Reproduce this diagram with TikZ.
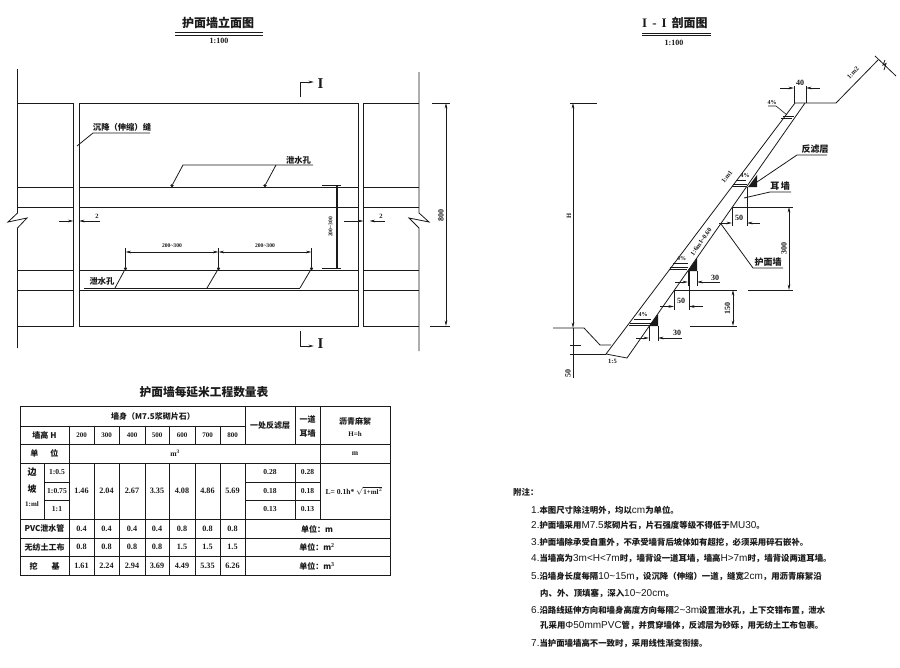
\documentclass[tikz,border=0pt]{standalone}
\usepackage{fontspec}
\setmainfont{Liberation Serif}
\newfontfamily\cjk{Noto Sans CJK SC}
\newfontfamily\ls{Liberation Sans}
\newcommand{\fs}[1]{\fontsize{#1}{#1}\selectfont}
\newcommand{\Z}[1]{{\cjk\bfseries #1}}
\newcommand{\A}[1]{{\ls\fs{10}#1}}
\usetikzlibrary{arrows.meta}
\definecolor{ink}{HTML}{1A1A1A}
\tikzset{
  ln/.style={draw=ink,line width=0.8pt},
  hv/.style={draw=ink,line width=1.1pt},
  dimline/.style={draw=ink,line width=0.6pt},
  tip/.style={-{Stealth[length=5.5pt,width=2.6pt]}},
  lab/.style={inner sep=0pt,text=ink,font=\fs{8.3}\cjk\bfseries},
  num/.style={inner sep=0pt,text=ink,font=\fs{6.5}\bfseries},
  tnum/.style={inner sep=0pt,text=ink,font=\fs{5.6}\bfseries},
  scalenum/.style={inner sep=0pt,text=ink,font=\fs{8}\bfseries},
  pct/.style={inner sep=0pt,text=ink,font=\fs{6}\bfseries},
  dimnum/.style={inner sep=0pt,text=ink,font=\fs{8}\bfseries},
  ttl/.style={inner sep=0pt,text=ink,font=\fs{12}\cjk\bfseries},
  cell/.style={inner sep=0pt,text=ink,font=\fs{7.6}\bfseries},
  hcell/.style={inner sep=0pt,text=ink,font=\fs{7}\bfseries},
  vcell/.style={inner sep=0pt,text=ink,font=\fs{8.2}\bfseries},
  ccell/.style={inner sep=0pt,text=ink,font=\fs{8}\cjk\bfseries},
  note/.style={inner sep=0pt,anchor=west,text=ink,font=\fs{8.4}\cjk},
  hole/.style={circle,fill=ink,draw=ink,line width=0.3pt,minimum size=3pt,inner sep=0pt},
  grid/.style={draw=ink,line width=0.9pt},
}
\begin{document}
\begin{tikzpicture}[x=1pt,y=-1pt]
\useasboundingbox[fill=white] (0,0) rectangle (900,667);

% ---------- elevation ----------
\node[ttl] (t1) at (218,23) {护面墙立面图};
\draw[ln] (175,32.5) -- (263,32.5);
\draw[ln] (175,35) -- (263,35);
\node[scalenum] (s1) at (219,40.5) {1:100};

% outer verticals with break marks
\draw[ln] (17.5,69) -- (17.5,213) -- (8,222) -- (27,218) -- (17.5,228) -- (17.5,348);
\draw[ln] (419,72) -- (419,213) -- (429,222) -- (409,218) -- (419,228) -- (419,351);
% panels
\draw[ln] (17.5,103) -- (73.5,103) -- (73.5,326) -- (17.5,326);
\draw[ln] (79,103) rectangle (358,326);
\draw[ln] (419,103) -- (363.5,103) -- (363.5,326) -- (419,326);
\foreach \yy in {187,207,270.5,290.5}{
  \draw[ln] (17.5,\yy) -- (73.5,\yy);
  \draw[ln] (79,\yy) -- (358,\yy);
  \draw[ln] (363.5,\yy) -- (419,\yy);
}
% section marks
\draw[ln] (300,97) -- (300,82);
\draw[ln,tip] (300,82) -- (314,82);
\node[inner sep=0pt,font=\fs{15}\bfseries,text=ink] (i1) at (320.5,84) {I};
\draw[ln] (300,331) -- (300,346);
\draw[ln,tip] (300,346) -- (314,346);
\node[inner sep=0pt,font=\fs{15}\bfseries,text=ink] (i2) at (320.5,343.5) {I};
% 800
\draw[ln] (432,103) -- (450,103);
\draw[ln] (430,326) -- (450,326);
\draw[dimline,tip] (446,215) -- (446,103);
\draw[dimline,tip] (446,215) -- (446,326);
\node[dimnum,rotate=90] (d800) at (441,215) {800};
% 200~300 vertical
\draw[ln] (322,185) -- (341,185);
\draw[ln] (322,268) -- (341,268);
\draw[hv] (337,185) -- (337,268);
\node[tnum,rotate=90] (dv) at (330.5,227) {200\textasciitilde300};
% gaps
\draw[dimline,tip] (59,221) -- (73.5,221);
\draw[dimline,tip] (100,221) -- (79,221);
\node[num] (g1) at (97,216.5) {2};
\draw[dimline,tip] (344,221) -- (363.5,221);
\draw[dimline,tip] (385,221) -- (369.5,221);
\node[num] (g2) at (381,216.5) {2};
% joint label
\node[lab] (ljoint) at (122,127) {沉降（伸缩）缝};
\draw[ln] (150,133) -- (93,133) -- (77,146);
% top drain holes
\node[hole] (h1) at (172,185.5) {};
\node[hole] (h2) at (265,185.5) {};
\node[lab] (lh1) at (298.5,160) {泄水孔};
\draw[ln] (h1) -- (183,165) -- (313,165);
\draw[ln] (h2) -- (276,165);
% bottom drain holes
\node[hole] (h3) at (125.5,268.5) {};
\node[hole] (h4) at (218.5,268.5) {};
\node[hole] (h5) at (311.5,268.5) {};
\node[lab] (lh2) at (102,281.5) {泄水孔};
\draw[ln] (h3) -- (115,288);
\draw[ln] (h4) -- (207,288);
\draw[ln] (h5) -- (300,288);
\draw[ln] (84,288) -- (300,288);
\draw[ln] (125.5,248) -- (h3);
\draw[hv] (218.5,248) -- (h4);
\draw[ln] (311.5,248) -- (h5);
\draw[dimline,tip] (172,252) -- (125.5,252);
\draw[dimline,tip] (172,252) -- (218.5,252);
\draw[dimline,tip] (265,252) -- (218.5,252);
\draw[dimline,tip] (265,252) -- (311.5,252);
\node[tnum] (d1) at (172,246) {200\textasciitilde300};
\node[tnum] (d2) at (265,246) {200\textasciitilde300};

% ---------- section ----------
\node[inner sep=0pt,text=ink,anchor=west,font=\fs{13}\bfseries] (t2) at (642,23) {I\hspace{5pt}-\hspace{5pt}I\hspace{5pt}{\cjk\fs{12}剖面图}};
\draw[ln] (642,33) -- (711,33);
\draw[ln] (642,35) -- (711,35);
\node[scalenum] (s2) at (674,43) {1:100};

% wall
\draw[ln] (795,103) -- (606,354) -- (627,358) -- (805,103);
% ground
\draw[ln] (795,103) -- (836,103) -- (878,60);
\draw[ln] (875,56) -- (896,76);
\draw[ln] (885,60) -- (883,65) -- (886,63.5) -- (884,70);
\draw[ln] (553,328) -- (584,328) -- (600,345) -- (611,345);
\node[num,rotate=46] (m2b) at (853,73) {1:m2};
\node[num,rotate=53] (m1) at (727,177) {1:m1};
\node[num,rotate=55] (m3) at (701,242) {1:6m1\textasciitilde0.60};
\node[num] (m4) at (612.5,361) {1:5};
% 40
\draw[ln] (794,103) -- (794,86);
\draw[ln] (806,103) -- (806,86);
\draw[dimline,tip] (780,88) -- (794,88);
\draw[dimline,tip] (820,88) -- (806,88);
\node[dimnum] (d40) at (800,82.5) {40};
% H and 50 on left
\draw[ln] (570,103) -- (597,103);
\draw[dimline,tip] (573,216) -- (573,103);
\draw[dimline,tip] (573,216) -- (573,328);
\node[num,rotate=90] (dh) at (569,216) {H};
\draw[dimline] (573,328) -- (573,378);
\draw[ln] (570,345) -- (581,345);
\draw[ln] (570,354) -- (606,354);
\node[dimnum,rotate=90] (d50l) at (568,373) {50};
% drain pipes
\foreach \xa/\xb/\ya in {782.5/793.5/116, 733/747/184, 670/688/267, 630/651.5/323}{
  \draw[ln] (\xa,\ya) -- (\xb,\ya);
  \draw[ln] (\xa-1.5,\ya+2.5) -- (\xb-1.5,\ya+2.5);
}
% triangles
\fill[ink] (757,175) -- (757,187) -- (748,187) -- cycle;
\fill[ink] (697,258) -- (697,271) -- (688,271) -- cycle;
\fill[ink] (658,314) -- (658,326) -- (649,326) -- cycle;
% percent labels
\node[pct] (p1) at (772,103) {4\%};
\draw[dimline] (768,106) -- (776,106) -- (787,115);
\node[pct] (p2) at (745,176) {4\%};
\draw[dimline] (736,180) -- (746,180);
\node[pct] (p3) at (681.5,259) {4\%};
\draw[dimline] (673,263) -- (688,263);
\node[pct] (p4) at (643,315) {4\%};
\draw[dimline] (634,319) -- (651,319);
% 30 lower
\draw[dimline] (649,326) -- (649,341);
\draw[dimline] (658,326) -- (658,341);
\draw[dimline,tip] (636,338) -- (649,338);
\draw[dimline,tip] (682,338) -- (658,338);
\node[dimnum] (d30a) at (677,333) {30};
% 30 upper
\draw[dimline] (688,271) -- (688,286);
\draw[dimline] (697,271) -- (697,286);
\draw[dimline,tip] (675,282) -- (688,282);
\draw[dimline,tip] (720,282) -- (697,282);
\node[dimnum] (d30b) at (715,277.5) {30};
% 50 lower + 150
\draw[dimline] (674,290) -- (674,310);
\draw[dimline] (689,271) -- (689,310);
\draw[dimline,tip] (660,306.5) -- (674,306.5);
\draw[dimline,tip] (703,306.5) -- (689,306.5);
\node[dimnum] (d50a) at (681,301) {50};
\draw[ln] (674,290) -- (737,290);
\draw[ln] (690,326) -- (737,326);
\draw[dimline,tip] (733,308) -- (733,290);
\draw[dimline,tip] (733,308) -- (733,326);
\node[dimnum,rotate=90] (d150) at (727.5,308) {150};
% 50 upper + 300
\draw[dimline] (732,207) -- (732,226);
\draw[dimline] (747,187) -- (747,226);
\draw[dimline,tip] (719,223) -- (732,223);
\draw[dimline,tip] (760,223) -- (747,223);
\node[dimnum] (d50b) at (739,218) {50};
\draw[ln] (732,207) -- (793,207);
\draw[ln] (748,290) -- (793,290);
\draw[dimline,tip] (789,248) -- (789,207);
\draw[dimline,tip] (789,248) -- (789,290);
\node[dimnum,rotate=90] (d300) at (784,248) {300};
% labels
\node[lab,font=\fs{9}\cjk\bfseries] (lb1) at (768,262) {护面墙};
\draw[ln] (721,224) -- (753,268) -- (783,268);
\node[lab,font=\fs{9}\cjk\bfseries] (lb2) at (780,186) {耳\,墙};
\draw[ln] (744,198) -- (770,192) -- (791,192);
\node[lab,font=\fs{9}\cjk\bfseries] (lb3) at (815,149) {反滤层};
\draw[ln] (757,182) -- (797,155) -- (827,155);

% ---------- table ----------
\node[ttl,font=\fs{11.7}\cjk\bfseries] (t3) at (204,392) {护面墙每延米工程数量表};
\draw[draw=ink,line width=1pt] (20,406) rectangle (390,575);
% horizontals
\draw[grid] (20,426) -- (245,426);
\draw[grid] (20,444) -- (390,444);
\draw[grid] (20,463) -- (390,463);
\draw[grid] (44,482) -- (69,482);
\draw[grid] (245,482) -- (320,482);
\draw[grid] (44,500) -- (69,500);
\draw[grid] (245,500) -- (320,500);
\draw[grid] (20,519) -- (390,519);
\draw[grid] (20,538) -- (390,538);
\draw[grid] (20,556) -- (390,556);
% verticals
\draw[grid] (44,463) -- (44,519);
\draw[grid] (69,426) -- (69,575);
\foreach \xx in {94,119,145,169,195,220}{
  \draw[grid] (\xx,426) -- (\xx,444);
  \draw[grid] (\xx,463) -- (\xx,575);
}
\draw[grid] (245,406) -- (245,444);
\draw[grid] (245,463) -- (245,575);
\draw[grid] (295,406) -- (295,444);
\draw[grid] (295,463) -- (295,519);
\draw[grid] (320,406) -- (320,519);
% header
\node[ccell] (c0) at (153,416) {墙身（\textbf{M7.5}浆砌片石）};
\node[ccell] (c1) at (270,425) {一处反滤层};
\node[ccell] (c2a) at (307.5,419) {一道};
\node[ccell] (c2b) at (307.5,433) {耳墙};
\node[ccell] (c3a) at (355,421) {沥青麻絮};
\node[hcell] (c3b) at (355,434.5) {H=h};
\node[ccell] (c4) at (44.5,435) {墙高 \textbf{H}};
\foreach \i/\xc/\v/\pv/\wu/\wa in {
   1/81.5/1.46/0.4/0.8/1.61,
   2/106.5/2.04/0.4/0.8/2.24,
   3/132/2.67/0.4/0.8/2.94,
   4/157/3.35/0.4/0.8/3.69,
   5/182/4.08/0.8/1.5/4.49,
   6/207.5/4.86/0.8/1.5/5.35,
   7/232.5/5.69/0.8/1.5/6.26}{
  \pgfmathtruncatemacro{\hh}{100+100*\i}
  \node[hcell] (hd\i) at (\xc,435) {\hh};
  \node[vcell] (va\i) at (\xc,491) {\v};
  \node[vcell] (pv\i) at (\xc,528.5) {\pv};
  \node[vcell] (wu\i) at (\xc,547) {\wu};
  \node[vcell] (wa\i) at (\xc,566) {\wa};
}
% unit row
\node[ccell] (u0) at (44.5,453.5) {单\hspace{12pt}位};
\node[cell] (u1) at (175,453.5) {m$^{\mathbf{3}}$};
\node[cell] (u2) at (355,453.5) {m};
% slopes
\node[ccell,font=\fs{9}\cjk\bfseries] (b1) at (32,472) {边};
\node[ccell,font=\fs{9}\cjk\bfseries] (b2) at (32,489) {坡};
\node[hcell] (b3) at (32,504) {1:ml};
\node[cell] (r1) at (57,472.5) {1:0.5};
\node[cell] (r2) at (57,491) {1:0.75};
\node[cell] (r3) at (57,509.5) {1:1};
\node[cell] (f1) at (270,472.5) {0.28};
\node[cell] (f2) at (270,491) {0.18};
\node[cell] (f3) at (270,509.5) {0.13};
\node[cell] (e1) at (307.5,472.5) {0.28};
\node[cell] (e2) at (307.5,491) {0.18};
\node[cell] (e3) at (307.5,509.5) {0.13};
\node[cell] (fm) at (354,491) {L= 0.1h* $\sqrt{\hbox{\fs{7}\bfseries 1+ml$^2$}}$};
% bottom rows
\node[ccell] (k1) at (44.5,528.5) {\textbf{PVC}泄水管};
\node[ccell] (k2) at (44.5,547) {无纺土工布};
\node[ccell] (k3) at (44.5,566) {挖\hspace{14pt}基};
\node[ccell] (n1) at (317,529) {单位：\textbf{m}};
\node[ccell] (n2) at (317,547.5) {单位：\textbf{m}$^{\mathbf{2}}$};
\node[ccell] (n3) at (317,566) {单位：\textbf{m}$^{\mathbf{3}}$};

% ---------- notes ----------
\node[note] (a0) at (513,492) {\Z{附注：}};
\node[note] (a1) at (531,510) {\A{1.}\Z{本图尺寸除注明外，均以}\A{cm}\Z{为单位。}};
\node[note] (a2) at (531,526) {\A{2.}\Z{护面墙采用}\A{M7.5}\Z{浆砌片石，片石强度等级不得低于}\A{MU30}\Z{。}};
\node[note] (a3) at (531,542.5) {\A{3.}\Z{护面墙除承受自重外，不承受墙背后坡体如有超挖，必须采用碎石嵌补。}};
\node[note] (a4) at (531,559) {\A{4.}\Z{当墙高为}\A{3m<H<7m}\Z{时，墙背设一道耳墙，墙高}\A{H>7m}\Z{时，墙背设两道耳墙。}};
\node[note] (a5) at (531,576.5) {\A{5.}\Z{沿墙身长度每隔}\A{10\textasciitilde15m}\Z{，设沉降（伸缩）一道，缝宽}\A{2cm}\Z{，用沥青麻絮沿}};
\node[note] (a5b) at (540,593) {\Z{内、外、顶填塞，深入}\A{10\textasciitilde20cm}\Z{。}};
\node[note] (a6) at (531,610) {\A{6.}\Z{沿路线延伸方向和墙身高度方向每隔}\A{2\textasciitilde3m}\Z{设置泄水孔，上下交错布置，泄水}};
\node[note] (a6b) at (540,626) {\Z{孔采用}\A{Φ50mmPVC}\Z{管，并贯穿墙体，反滤层为砂砾，用无纺土工布包裹。}};
\node[note] (a7) at (531,643) {\A{7.}\Z{当护面墙墙高不一致时，采用线性渐变衔接。}};
\end{tikzpicture}
\end{document}
